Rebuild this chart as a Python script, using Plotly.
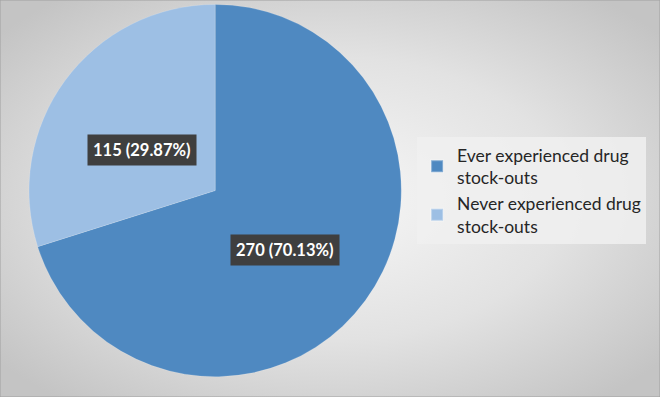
import base64
import plotly.graph_objects as go

categories = ["Ever experienced drug<br>stock-outs", "Never experienced drug<br>stock-outs"]
values = [270, 115]
colors = ["#4f89c1", "#9dbfe4"]

total = sum(values)
label_texts = [f"<b>{v} ({v / total * 100:.2f}%)</b>" for v in values]

svg = """<svg xmlns='http://www.w3.org/2000/svg' width='660' height='397' viewBox='0 0 660 397' preserveAspectRatio='none'>
<defs><radialGradient id='g' cx='0.5' cy='0.5' r='0.65'>
<stop offset='0' stop-color='#f7f7f7'/><stop offset='0.55' stop-color='#e2e2e2'/><stop offset='1' stop-color='#c4c4c4'/>
</radialGradient></defs>
<rect width='660' height='397' fill='url(#g)'/>
</svg>"""
src = "data:image/svg+xml;base64," + base64.b64encode(svg.encode()).decode()

fig = go.Figure()
fig.add_trace(go.Pie(
    labels=categories,
    values=values,
    sort=False,
    direction="clockwise",
    rotation=0,
    textinfo="none",
    hoverinfo="label+value+percent",
    marker=dict(colors=colors, line=dict(color="rgba(255,255,255,0.3)", width=0.5)),
    domain=dict(x=[0.044, 0.608], y=[0.05, 0.99]),
))

label_pos = [(0.432, 0.37), (0.215, 0.622)]
for txt, (x, y) in zip(label_texts, label_pos):
    fig.add_annotation(
        x=x, y=y, xref="paper", yref="paper", text=txt, showarrow=False,
        font=dict(family="Lato, Open Sans, sans-serif", size=16.5, color="white"),
        bgcolor="#3f3f3f", borderpad=5, xanchor="center", yanchor="middle",
    )

fig.update_layout(
    width=660, height=397,
    margin=dict(l=0, r=0, t=0, b=0),
    paper_bgcolor="#dcdcdc",
    plot_bgcolor="rgba(0,0,0,0)",
    images=[dict(source=src, xref="paper", yref="paper", x=0, y=1, sizex=1, sizey=1,
                 sizing="stretch", layer="below", xanchor="left", yanchor="top")],
    legend=dict(
        x=0.632, y=0.655, xanchor="left", yanchor="top",
        bgcolor="rgba(240,240,240,0.85)",
        font=dict(family="Lato, Open Sans, sans-serif", size=17.5, color="#262626"),
        itemsizing="constant",
        itemwidth=30,
    ),
    showlegend=True,
    shapes=[dict(type="rect", xref="paper", yref="paper", x0=0, y0=0, x1=1, y1=1,
                 line=dict(color="#a0a0a0", width=1))],
)

fig.write_html("out.html")
